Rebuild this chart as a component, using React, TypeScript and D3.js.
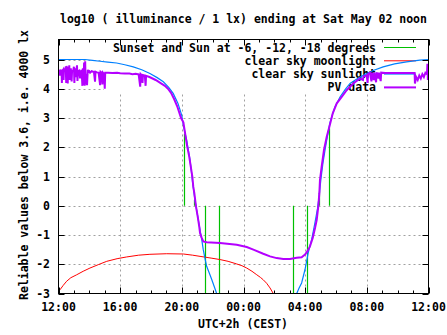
import React from "react";
import * as d3 from "d3";

// hours after Fri 12:00 (UTC+2)
const xTickLabels = ["12:00", "16:00", "20:00", "00:00", "04:00", "08:00", "12:00"];
const yTicks = [-3, -2, -1, 0, 1, 2, 3, 4, 5];

const legendLabels = [
  "Sunset and Sun at -6, -12, -18 degrees",
  "clear sky moonlight",
  "clear sky sunlight",
  "PV data",
];
const colors = ["#00c000", "#ff0000", "#0080ff", "#b400ff"];

// sunset / twilight impulses [hour, value]
const sunEvents: [number, number][] = [
  [8.14, 2.45], [8.81, 0.2], [9.53, -3.3], [10.43, -3.3],
  [15.23, -3.3], [16.14, -3.3], [16.92, 0.5], [17.57, 2.65],
];

// clear sky moonlight
const moonlight: [number, number][] = [
  [0, -2.95], [0.1, -2.87], [0.31, -2.72], [0.53, -2.58], [0.8, -2.46], [1.18, -2.36],
  [1.6, -2.24], [2.04, -2.13], [2.6, -2.01], [3.13, -1.9], [3.8, -1.81], [4.42, -1.75],
  [5.2, -1.69], [5.93, -1.66], [7.02, -1.64], [8.1, -1.65], [8.7, -1.69], [9.18, -1.73],
  [9.9, -1.79], [10.48, -1.84], [11.0, -1.9], [11.56, -1.99], [11.9, -2.05], [12.21, -2.13],
  [12.55, -2.24], [12.86, -2.36], [13.1, -2.45], [13.28, -2.53], [13.5, -2.65],
  [13.72, -2.81], [13.93, -3.0], [14.05, -3.2],
];

// clear sky sunlight
const sunlight: [number, number][] = [
  [0, 5.0], [1.72, 5.0], [2.2, 4.97], [2.69, 4.94], [3.2, 4.91], [3.77, 4.88],
  [4.3, 4.82], [4.85, 4.75], [5.4, 4.65], [5.93, 4.52], [6.4, 4.38], [6.8, 4.24],
  [7.15, 4.05], [7.44, 3.84], [7.75, 3.5], [7.99, 3.1], [8.09, 2.78], [8.2, 2.5],
  [8.31, 2.25], [8.42, 1.92], [8.53, 1.57], [8.62, 1.18], [8.7, 0.78], [8.78, 0.48],
  [8.85, 0.2], [8.96, -0.14], [9.07, -0.48], [9.18, -0.82], [9.29, -1.15], [9.39, -1.5],
  [9.5, -1.8], [9.61, -2.07], [9.78, -2.3], [9.94, -2.52], [10.1, -2.76], [10.26, -3.0],
  [10.5, -3.4], [15.2, -3.4], [15.45, -3.0], [15.6, -2.82], [15.77, -2.64], [15.99, -2.18],
  [16.2, -1.6], [16.42, -1.16], [16.63, -0.59], [16.8, -0.1], [16.9, 0.3], [17.02, 0.9],
  [17.15, 1.45], [17.29, 1.91], [17.45, 2.4], [17.6, 2.82], [17.77, 3.12], [17.93, 3.38],
  [18.26, 3.72], [18.6, 3.98], [18.91, 4.18], [19.45, 4.37], [19.99, 4.52], [20.5, 4.64],
  [21.06, 4.75], [21.8, 4.85], [22.58, 4.92], [23.44, 4.98], [24, 5.0],
];

// PV data
const pvData: [number, number][] = [
  [0, 4.6], [0.08, 4.62], [0.1, 4.45], [0.12, 4.6], [0.2, 4.62], [0.22, 4.2], [0.24, 4.6],
  [0.3, 4.65], [0.33, 4.3], [0.35, 4.62], [0.45, 4.7], [0.47, 4.75], [0.5, 4.2], [0.52, 4.78],
  [0.55, 4.6], [0.6, 4.18], [0.62, 4.75], [0.66, 4.5], [0.7, 4.8], [0.72, 4.3], [0.76, 4.6],
  [0.8, 4.7], [0.85, 4.25], [0.88, 4.6], [0.95, 4.62], [1.0, 4.75], [1.03, 4.2], [1.06, 4.7],
  [1.1, 4.4], [1.15, 4.6], [1.2, 4.8], [1.23, 4.27], [1.27, 4.6], [1.35, 4.62], [1.4, 4.35],
  [1.45, 4.6], [1.5, 4.62], [1.55, 4.1], [1.58, 4.7], [1.62, 4.12], [1.66, 4.9], [1.7, 4.1],
  [1.73, 4.94], [1.76, 4.15], [1.8, 4.5], [1.85, 4.12], [1.9, 4.65], [1.95, 4.58], [2.0, 4.6],
  [2.05, 4.55], [2.15, 4.6], [2.3, 4.57], [2.37, 4.24], [2.4, 4.58], [2.5, 4.56], [2.6, 4.55],
  [2.7, 4.12], [2.73, 4.58], [2.8, 4.55], [2.85, 4.15], [2.88, 4.55], [2.96, 4.5], [3.0, 4.0],
  [3.03, 4.55], [3.2, 4.55], [3.5, 4.54], [3.8, 4.55], [4.0, 4.53], [4.3, 4.52], [4.6, 4.52],
  [4.8, 4.5], [5.0, 4.51], [5.2, 4.49], [5.3, 4.07], [5.33, 4.5], [5.4, 4.46], [5.45, 4.2],
  [5.48, 4.47], [5.6, 4.45], [5.65, 4.1], [5.68, 4.44], [5.9, 4.4], [6.1, 4.35], [6.3, 4.3],
  [6.6, 4.2], [6.9, 4.1], [7.1, 4.0], [7.3, 3.86], [7.5, 3.65], [7.7, 3.4], [7.95, 3.0],
  [8.1, 2.85], [8.21, 2.48], [8.35, 2.02], [8.48, 1.68], [8.58, 1.34], [8.68, 1.0],
  [8.74, 0.66], [8.81, 0.43], [8.92, -0.03], [9.03, -0.37], [9.13, -0.71], [9.18, -0.93],
  [9.29, -1.1], [9.39, -1.22], [9.61, -1.25], [10.48, -1.27], [11.56, -1.33], [12.21, -1.41],
  [12.64, -1.5], [13.28, -1.64], [13.72, -1.73], [14.15, -1.79], [14.58, -1.82], [15.02, -1.82],
  [15.45, -1.78], [15.77, -1.76], [15.99, -1.67], [16.14, -1.56], [16.31, -1.39], [16.49, -1.1],
  [16.64, -0.76], [16.75, -0.48], [16.85, -0.03], [16.92, 0.43], [16.96, 0.88], [17.07, 1.34],
  [17.22, 1.91], [17.4, 2.36], [17.57, 2.7], [17.79, 3.16], [18.05, 3.5], [18.37, 3.72],
  [18.69, 3.95], [19.12, 4.18], [19.56, 4.35], [19.75, 4.3], [19.78, 4.42], [19.99, 4.46],
  [20.05, 4.2], [20.08, 4.5], [20.2, 4.54], [20.3, 4.25], [20.33, 4.55], [20.45, 4.3],
  [20.48, 4.55], [20.6, 4.22], [20.63, 4.56], [20.75, 4.35], [20.78, 4.55], [20.9, 4.26],
  [20.93, 4.55], [21.2, 4.54], [22.0, 4.54], [23.1, 4.54], [23.12, 4.18], [23.2, 4.4],
  [23.3, 4.3], [23.4, 4.45], [23.5, 4.35], [23.6, 4.5], [23.7, 4.4], [23.8, 4.55], [23.9, 4.5],
  [23.93, 4.85], [23.96, 4.3], [24, 4.55],
];

const W = 447, H = 335;
const L = 58.5, R = 428.5, T = 39.5, B = 293.5;
const FONT = "'DejaVu Sans Mono', monospace";

export default function App() {
  const x = d3.scaleLinear().domain([0, 24]).range([L, R]);
  const y = d3.scaleLinear().domain([-3, 5]).range([B, 59.5]);
  const line = d3.line<[number, number]>().x((d) => x(d[0])).y((d) => y(d[1]));
  const majorX = d3.range(0, 25, 4);
  const minorX = d3.range(0, 25, 1);
  const legendRowY = [47.5, 60.8, 74.1, 87.4];

  return (
    <svg width={W} height={H} style={{ display: "block", position: "absolute", left: 0, top: 0 }}>
      <rect x={0} y={0} width={W} height={H} fill="#fff" />
      <defs>
        <clipPath id="plot">
          <rect x={L} y={T} width={R - L} height={B - T} />
        </clipPath>
      </defs>
      {/* grid */}
      <g stroke="#a0a0a0" strokeWidth={1} strokeDasharray="2,3">
        {majorX.slice(1, -1).map((h) => (
          <line key={"gx" + h} x1={Math.round(x(h)) + 0.5} x2={Math.round(x(h)) + 0.5} y1={T} y2={B} />
        ))}
        {yTicks.slice(1).map((v) => (
          <line key={"gy" + v} x1={L} x2={R} y1={Math.round(y(v)) + 0.5} y2={Math.round(y(v)) + 0.5} />
        ))}
      </g>
      {/* opaque key box */}
      <rect x={104} y={T} width={R - 104} height={93 - T} fill="#fff" />
      {/* legend */}
      <g fontFamily={FONT} fontWeight="bold" fontSize={11.5} fill="#000">
        {legendLabels.map((t, i) => (
          <g key={t}>
            <text x={376} y={legendRowY[i] + 4} textAnchor="end">{t}</text>
            <line x1={384} x2={416} y1={legendRowY[i]} y2={legendRowY[i]} stroke={colors[i]} strokeWidth={i === 3 ? 2 : 1} />
          </g>
        ))}
      </g>
      {/* data */}
      <g clipPath="url(#plot)" fill="none">
        {sunEvents.map((d, i) => (
          <line key={"s" + i} x1={Math.round(x(d[0])) + 0.5} x2={Math.round(x(d[0])) + 0.5} y1={y(0)} y2={y(d[1])} stroke={colors[0]} strokeWidth={1.2} />
        ))}
        <path d={line(moonlight) || ""} stroke={colors[1]} strokeWidth={1} />
        <path d={line(sunlight) || ""} stroke={colors[2]} strokeWidth={1.2} />
        <path d={line(pvData) || ""} stroke={colors[3]} strokeWidth={2} strokeLinejoin="miter" />
      </g>
      {/* ticks */}
      <g stroke="#000" strokeWidth={1}>
        {minorX.map((h) => {
          const len = h % 4 === 0 ? 6 : 3;
          const xx = Math.round(x(h)) + 0.5;
          return (
            <g key={"tx" + h}>
              <line x1={xx} x2={xx} y1={B} y2={B - len} />
              <line x1={xx} x2={xx} y1={T} y2={T + len} />
            </g>
          );
        })}
        {yTicks.map((v) => {
          const yy = Math.round(y(v)) + 0.5;
          return (
            <g key={"ty" + v}>
              <line x1={L} x2={L + 6} y1={yy} y2={yy} />
              <line x1={R} x2={R - 6} y1={yy} y2={yy} />
            </g>
          );
        })}
      </g>
      <rect x={L} y={T} width={R - L} height={B - T} fill="none" stroke="#000" strokeWidth={1} />
      {/* labels */}
      <g fontFamily={FONT} fontWeight="bold" fontSize={11.5} fill="#000">
        {yTicks.map((v) => (
          <text key={"ly" + v} x={50} y={y(v) + 4} textAnchor="end">{v}</text>
        ))}
        {majorX.map((h, i) => (
          <text key={"lx" + h} x={x(h)} y={311} textAnchor="middle">{xTickLabels[i]}</text>
        ))}
        <text x={243} y={328} textAnchor="middle">UTC+2h (CEST)</text>
        <text x={243.5} y={23} textAnchor="middle">log10 ( illuminance / 1 lx) ending at Sat May 02 noon</text>
        <text transform="translate(27.5,165) rotate(-90)" textAnchor="middle">Reliable values below 3.6, i.e. 4000 lx</text>
      </g>
    </svg>
  );
}
